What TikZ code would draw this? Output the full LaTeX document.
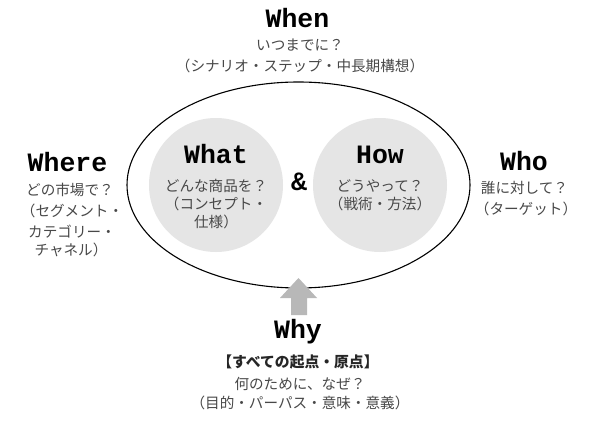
\documentclass[tikz,border=0pt]{standalone}
\usepackage{fontspec}
\usetikzlibrary{shapes.geometric}
\newfontfamily\jpfont{Noto Sans CJK JP}
\newfontfamily\headfont{Liberation Mono}
\definecolor{jpgray}{HTML}{484848}
\definecolor{circfill}{HTML}{E5E5E5}
\definecolor{arrowfill}{HTML}{B8B8B8}
\tikzset{
  head/.style={font=\headfont\bfseries\fontsize{26.5}{30}\selectfont, text=black, inner sep=0pt, anchor=base},
  jp/.style={font=\jpfont\fontsize{14.6}{20}\selectfont, text=jpgray, inner sep=0pt, anchor=base},
  jpbold/.style={font=\jpfont\bfseries\fontsize{14.8}{20}\selectfont, text=black!85, inner sep=0pt, anchor=base},
  bubble/.style={circle, fill=circfill, draw=none, minimum size=134pt, inner sep=0pt},
}
\begin{document}
\begin{tikzpicture}[x=1pt,y=-1pt]
\useasboundingbox (0,0) rectangle (600,428);
\fill[white] (0,0) rectangle (600,428);
% outer ellipse
\node[ellipse, draw=black, line width=1.1pt, minimum width=343pt, minimum height=206pt, inner sep=0pt] (outer) at (298.5,185) {};
% circles
\node[bubble] (whatc) at (216,185) {};
\node[bubble] (howc) at (380,185) {};
% arrow
\fill[arrowfill] (298.5,278) -- (317,298) -- (307,298) -- (307,315) -- (291,315) -- (291,298) -- (280,298) -- cycle;
% When
\node[head] (when) at (297.5,28) {When};
\node[jp] (when1) at (300,50.5) {いつまでに？};
\node[jp] (when2) at (300,71.5) {（シナリオ・ステップ・中長期構想）};
% Where
\node[head] (where) at (67.5,171.5) {Where};
\node[jp] (where1) at (70,195) {どの市場で？};
\node[jp] (where2) at (72,216.5) {（セグメント・};
\node[jp] (where3) at (72,237) {カテゴリー・};
\node[jp] (where4) at (71,255) {チャネル）};
% What
\node[head] (what) at (216,163.5) {What};
\node[jp] (what1) at (216,191.5) {どんな商品を？};
\node[jp] (what2) at (216,209.5) {（コンセプト・};
\node[jp] (what3) at (216,227.5) {仕様）};
% &
\node[head] (amp) at (299,190) {\&};
% How
\node[head] (how) at (380,163.5) {How};
\node[jp] (how1) at (380,191.5) {どうやって？};
\node[jp] (how2) at (380,209.5) {（戦術・方法）};
% Who
\node[head] (who) at (524,170) {Who};
\node[jp] (who1) at (524.5,193) {誰に対して？};
\node[jp] (who2) at (526,214) {（ターゲット）};
% Why
\node[head] (why) at (298,338) {Why};
\node[jpbold] (why1) at (298,367) {【すべての起点・原点】};
\node[jp] (why2) at (300,389) {何のために、なぜ？};
\node[jp] (why3) at (300,408) {（目的・パーパス・意味・意義）};
\end{tikzpicture}
\end{document}
